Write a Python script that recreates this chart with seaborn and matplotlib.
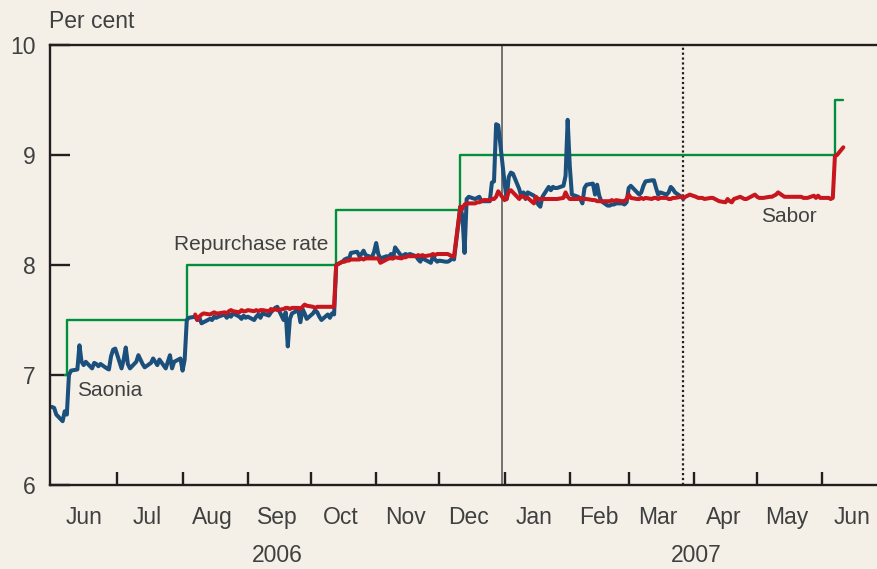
import pandas as pd
import matplotlib
matplotlib.use("Agg")
import matplotlib.pyplot as plt
import matplotlib.dates as mdates
import matplotlib.ticker as mticker
import matplotlib.transforms as mtransforms
import seaborn as sns

# Saonia, daily (business days), split by period
saonia_may = [6.71, 6.70, 6.64, 6.58, 6.67, 6.64]  # from 2006-05-31
saonia_jun_jul = [7.00, 7.04, 7.05, 7.27, 7.12, 7.09, 7.12, 7.06, 7.11, 7.10,
                  7.08, 7.10, 7.06, 7.05, 7.17, 7.23, 7.24, 7.06, 7.14, 7.25,
                  7.10, 7.06, 7.12, 7.18, 7.14, 7.10, 7.07, 7.11, 7.15, 7.12,
                  7.09, 7.14, 7.06, 7.12, 7.18, 7.06, 7.12, 7.15, 7.04, 7.14]  # from 2006-06-08
saonia_aug_oct = [7.50,
                  7.52, 7.53, 7.50, 7.52, 7.47, 7.48, 7.51, 7.50, 7.53, 7.52,
                  7.53, 7.55, 7.52, 7.55, 7.53, 7.56, 7.53, 7.51, 7.54, 7.52,
                  7.53, 7.50, 7.53, 7.55, 7.52, 7.56, 7.54, 7.57,
                  7.59, 7.61, 7.62, 7.50, 7.57, 7.26, 7.51, 7.56, 7.59, 7.48,
                  7.60, 7.56, 7.51, 7.56, 7.59, 7.57, 7.53, 7.50, 7.55, 7.52, 7.56,
                  7.55]  # from 2006-08-03
saonia_oct_dec = [8.00, 8.03, 8.05, 8.06, 8.05, 8.11, 8.12, 8.08, 8.10, 8.13,
                  8.09, 8.07, 8.12, 8.20, 8.10, 8.06, 8.08, 8.07, 8.10, 8.06,
                  8.16, 8.08, 8.09, 8.10, 8.09, 8.10, 8.08, 8.05, 8.03, 8.08,
                  8.05, 8.02, 8.08, 8.05, 8.03, 8.04, 8.03, 8.03, 8.04, 8.06,
                  8.05]  # from 2006-10-13
saonia_dec = [8.53, 8.44, 8.11, 8.60, 8.62, 8.60, 8.61, 8.62, 8.58, 8.58,
              8.58, 8.75, 8.76, 9.28, 9.27]  # from 2006-12-11
saonia_jan = [8.75, 8.60, 8.80, 8.84, 8.83, 8.69, 8.62, 8.66, 8.60, 8.66,
              8.63, 8.60, 8.55, 8.53, 8.62, 8.71, 8.68, 8.71, 8.70, 8.70,
              8.72, 8.81, 9.32]
saonia_feb = [8.90, 8.64, 8.62, 8.60, 8.56, 8.70, 8.73, 8.74, 8.64, 8.73,
              8.63, 8.58, 8.54, 8.54, 8.55, 8.55, 8.56, 8.56, 8.55, 8.57]
saonia_mar = [8.70, 8.72, 8.66, 8.64, 8.66, 8.72, 8.76, 8.77, 8.77, 8.70,
              8.64, 8.66, 8.64, 8.66, 8.71, 8.69, 8.66, 8.62, 8.60]

# Sabor, daily (business days)
sabor_aug_oct = [7.55, 7.50, 7.53, 7.55, 7.56, 7.55, 7.56, 7.57, 7.56, 7.56,
                 7.57, 7.56, 7.58, 7.59, 7.58, 7.57, 7.59, 7.58, 7.58,
                 7.59, 7.58, 7.59, 7.58, 7.59, 7.59, 7.58, 7.60, 7.59, 7.60,
                 7.59, 7.60, 7.61, 7.61, 7.60, 7.61, 7.61, 7.60, 7.62, 7.64, 7.63,
                 7.62, 7.61, 7.62, 7.62, 7.62, 7.62, 7.62, 7.62, 7.62]  # from 2006-08-07
sabor_oct_dec = [8.00, 8.03, 8.03, 8.04, 8.04, 8.05, 8.05, 8.05, 8.06, 8.05, 8.06, 8.06, 8.06,
                 8.06, 8.06, 8.02, 8.05, 8.06, 8.06, 8.06, 8.07, 8.06, 8.07, 8.07,
                 8.08, 8.08, 8.08, 8.09, 8.08, 8.09, 8.08, 8.09, 8.10, 8.09, 8.10,
                 8.10, 8.10, 8.10, 8.09, 8.08, 8.08]  # from 2006-10-13
sabor_dec = [8.53, 8.51, 8.55, 8.56, 8.56, 8.56, 8.57, 8.57, 8.58, 8.59,
             8.59, 8.60, 8.60, 8.62, 8.67]  # from 2006-12-11
sabor_jan = [8.59, 8.60, 8.67, 8.68, 8.66, 8.60, 8.63, 8.62, 8.61, 8.61,
             8.56, 8.62, 8.60, 8.60, 8.60, 8.60, 8.60, 8.60, 8.60, 8.60,
             8.61, 8.66, 8.62]
sabor_feb = [8.60, 8.60, 8.60, 8.61, 8.60, 8.60, 8.60, 8.59, 8.59, 8.58,
             8.58, 8.58, 8.58, 8.58, 8.59, 8.58, 8.59, 8.58, 8.58, 8.60]
sabor_mar = [8.64, 8.61, 8.60, 8.60, 8.61, 8.60, 8.61, 8.60, 8.61, 8.61,
             8.60, 8.61, 8.61, 8.60, 8.60, 8.61, 8.61, 8.62, 8.61, 8.62,
             8.63, 8.64]
sabor_apr = [8.62, 8.61, 8.61, 8.61, 8.60, 8.61, 8.61, 8.60, 8.59, 8.58,
             8.57, 8.60, 8.58, 8.57, 8.60, 8.62, 8.61, 8.60, 8.60, 8.61, 8.64]  # from 2007-04-02
sabor_may_jun = [8.62, 8.61, 8.61, 8.61, 8.62, 8.62, 8.63, 8.64, 8.66, 8.62,
                 8.62, 8.62, 8.62, 8.62, 8.62, 8.62, 8.61, 8.61, 8.61, 8.63,
                 8.61, 8.63, 8.61, 8.61, 8.61, 8.60, 8.61, 8.99, 9.00, 9.07]

# Repurchase rate changes
repo_dates = ["2006-06-06", "2006-06-07", "2006-08-03", "2006-10-13", "2006-12-11", "2007-06-07", "2007-06-11"]
repo_rate = [7.0, 7.5, 8.0, 8.5, 9.0, 9.5, 9.5]

month_labels = ["Jun", "Jul", "Aug", "Sep", "Oct", "Nov", "Dec", "Jan", "Feb", "Mar", "Apr", "May", "Jun"]
year_labels = ["2006", "2007"]


def daily(start, values):
    return pd.DataFrame({"date": pd.bdate_range(start, periods=len(values)), "rate": values})


saonia = pd.concat([
    daily("2006-05-31", saonia_may),
    daily("2006-06-08", saonia_jun_jul),
    daily("2006-08-03", saonia_aug_oct),
    daily("2006-10-13", saonia_oct_dec),
    daily("2006-12-11", saonia_dec),
    daily("2007-01-01", saonia_jan),
    daily("2007-02-01", saonia_feb),
    daily("2007-03-01", saonia_mar),
])
sabor = pd.concat([
    daily("2006-08-07", sabor_aug_oct),
    daily("2006-10-13", sabor_oct_dec),
    daily("2006-12-11", sabor_dec),
    daily("2007-01-01", sabor_jan),
    daily("2007-02-01", sabor_feb),
    daily("2007-03-01", sabor_mar),
    daily("2007-04-02", sabor_apr),
    daily("2007-05-01", sabor_may_jun),
])
repo = pd.DataFrame({"date": pd.to_datetime(repo_dates), "rate": repo_rate})

bg = "#F4F0E8"
ink = "#231F20"
txt = "#404040"

sns.set_theme(style="ticks")
plt.rcParams["font.family"] = ["Liberation Sans", "DejaVu Sans"]

fig = plt.figure(figsize=(8.77, 5.69), dpi=100, facecolor=bg)
ax = fig.add_axes([50 / 877, 84 / 569, 827 / 877, 440 / 569])
ax.set_facecolor(bg)

sns.lineplot(data=repo, x="date", y="rate", ax=ax, color="#00903C", linewidth=1.7,
             drawstyle="steps-post")
sns.lineplot(data=saonia, x="date", y="rate", ax=ax, color="#1B4F7C", linewidth=2.9)
sns.lineplot(data=sabor, x="date", y="rate", ax=ax, color="#C8161E", linewidth=2.9)

ax.axvline(pd.Timestamp("2006-12-31"), color="#5E5E5E", linewidth=1.2, zorder=1)
ax.axvline(pd.Timestamp("2007-03-27"), color=ink, linewidth=1.6, linestyle=(0, (1, 1.2)), zorder=1)

ax.set_xlim(pd.Timestamp("2006-05-30"), pd.Timestamp("2007-06-27"))
ax.set_ylim(6, 10)
ax.set_yticks([6, 7, 8, 9, 10])
ax.set_xlabel("")
ax.set_ylabel("")

month_starts = pd.date_range("2006-07-01", "2007-06-01", freq="MS")
mid_months = pd.date_range("2006-06-01", "2007-06-01", freq="MS") + pd.Timedelta(days=14)
ax.xaxis.set_major_locator(mticker.FixedLocator(mdates.date2num(month_starts)))
ax.xaxis.set_major_formatter(mticker.NullFormatter())
ax.xaxis.set_minor_locator(mticker.FixedLocator(mdates.date2num(mid_months)))
ax.xaxis.set_minor_formatter(mticker.FixedFormatter(month_labels))

for side in ["left", "top", "bottom"]:
    ax.spines[side].set_color(ink)
    ax.spines[side].set_linewidth(1.7)
ax.spines["right"].set_visible(False)

ax.tick_params(axis="y", which="major", direction="in", length=14.4, width=1.7,
               color=ink, labelsize=16.5, labelcolor=txt, pad=10.5)
ax.tick_params(axis="x", which="major", direction="in", length=9.4, width=1.7, color=ink)
ax.tick_params(axis="x", which="minor", length=0, labelsize=16.5, labelcolor=txt, pad=15)

trans = mtransforms.blended_transform_factory(ax.transData, ax.transAxes)
ax.text(pd.Timestamp("2006-09-15"), -0.16, year_labels[0], transform=trans, ha="center",
        va="center", fontsize=16.5, color=txt)
ax.text(pd.Timestamp("2007-04-02"), -0.16, year_labels[1], transform=trans, ha="center",
        va="center", fontsize=16.5, color=txt)

ax.text(pd.Timestamp("2006-07-28"), 8.19, "Repurchase rate", ha="left", va="center",
        fontsize=15, color=txt)
ax.text(pd.Timestamp("2006-06-12"), 6.86, "Saonia", ha="left", va="center",
        fontsize=15, color=txt)
ax.text(pd.Timestamp("2007-05-03"), 8.44, "Sabor", ha="left", va="center",
        fontsize=15, color=txt)

fig.text(49 / 877, 1 - 22 / 569, "Per cent", ha="left", va="center", fontsize=16.5, color=txt)

fig.savefig("out.png", dpi=100, facecolor=bg)
